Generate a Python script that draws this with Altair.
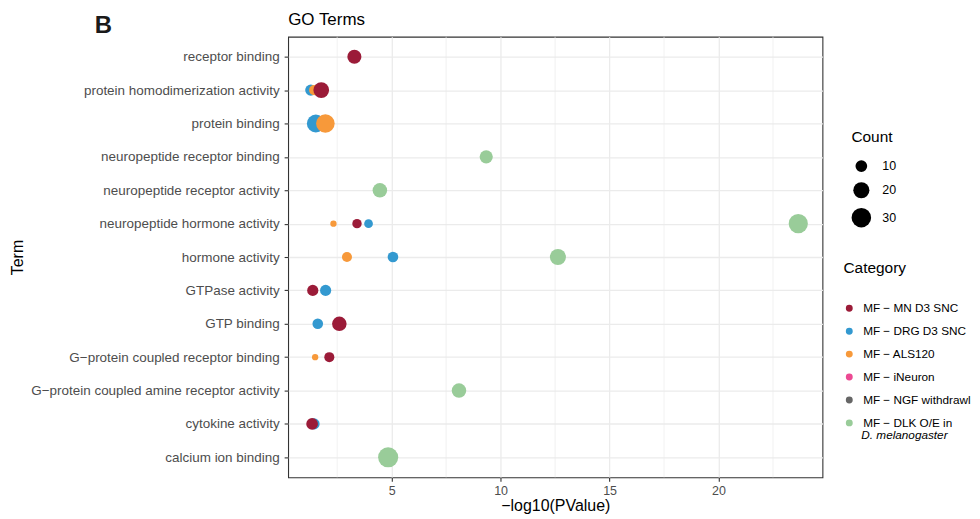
import altair as alt
import pandas as pd

MINUS = "\u2212"

terms = [
    "receptor binding",
    "protein homodimerization activity",
    "protein binding",
    "neuropeptide receptor binding",
    "neuropeptide receptor activity",
    "neuropeptide hormone activity",
    "hormone activity",
    "GTPase activity",
    "GTP binding",
    f"G{MINUS}protein coupled receptor binding",
    f"G{MINUS}protein coupled amine receptor activity",
    "cytokine activity",
    "calcium ion binding",
]

categories = [
    f"MF {MINUS} MN D3 SNC",
    f"MF {MINUS} DRG D3 SNC",
    f"MF {MINUS} ALS120",
    f"MF {MINUS} iNeuron",
    f"MF {MINUS} NGF withdrawl",
    f"MF {MINUS} DLK O/E in D. melanogaster",
]
colors = ["#9B1B38", "#3399D0", "#F7993A", "#EC4A93", "#666666", "#99CC99"]

MN, DRG, ALS, DLK = categories[0], categories[1], categories[2], categories[5]

# Points, drawn in this order (later rows on top)
pt_term = [
    terms[1], terms[2], terms[5], terms[6], terms[7], terms[8], terms[11],
    terms[1], terms[2], terms[5], terms[6], terms[9],
    terms[0], terms[1], terms[5], terms[7], terms[8], terms[9], terms[11],
    terms[3], terms[4], terms[5], terms[6], terms[10], terms[12],
]
pt_cat = [
    DRG, DRG, DRG, DRG, DRG, DRG, DRG,
    ALS, ALS, ALS, ALS, ALS,
    MN, MN, MN, MN, MN, MN, MN,
    DLK, DLK, DLK, DLK, DLK, DLK,
]
pt_logp = [
    1.29, 1.52, 3.94, 5.06, 1.97, 1.61, 1.44,
    1.44, 1.96, 2.33, 2.95, 1.49,
    3.29, 1.77, 3.41, 1.38, 2.60, 2.14, 1.35,
    9.34, 4.46, 23.66, 12.63, 8.09, 4.84,
]
pt_count = [
    9, 25, 5, 8, 9, 8, 9,
    7, 27, 2, 7, 2,
    15, 19, 6, 9, 16, 7, 10,
    13, 16, 29, 20, 16, 32,
]

minor_grid = [2.5, 7.5, 12.5, 17.5, 22.5]
major_ticks = [5, 10, 15, 20]
size_legend_values = [10, 20, 30]

df = pd.DataFrame({"Term": pt_term, "Category": pt_cat,
                   "logP": pt_logp, "Count": pt_count,
                   "ord": list(range(len(pt_term)))})

FONT = "Liberation Sans"
XDOM = [0.25, 24.77]

xscale = alt.Scale(domain=XDOM, nice=False, zero=False)

minor = alt.Chart(pd.DataFrame({"v": minor_grid})).mark_rule(
    color="#EBEBEB", strokeWidth=0.7
).encode(x=alt.X("v:Q", scale=xscale))

points = alt.Chart(df).mark_circle(opacity=1, strokeWidth=0).encode(
    x=alt.X("logP:Q", scale=xscale,
            axis=alt.Axis(title=f"{MINUS}log10(PValue)", values=major_ticks,
                          grid=True, gridColor="#EBEBEB", gridWidth=1.3,
                          tickColor="#333333", tickSize=4, tickWidth=1.1,
                          domain=False, labelFontSize=12.5,
                          labelColor="#4D4D4D", labelPadding=3,
                          titleFontSize=16, titleFontWeight="normal",
                          titleColor="#000000", titlePadding=1,
                          labelFont=FONT, titleFont=FONT)),
    y=alt.Y("Term:N", sort=terms,
            scale=alt.Scale(domain=terms, type="point", padding=0.6),
            axis=alt.Axis(title="Term", grid=True, gridColor="#EBEBEB",
                          gridWidth=1.3, tickColor="#333333", tickSize=4,
                          tickWidth=1.1, domain=False, labelFontSize=13.5,
                          labelColor="#4D4D4D", labelPadding=5,
                          labelLimit=400,
                          titleFontSize=16, titleFontWeight="normal",
                          titleColor="#000000", titleX=-263,
                          labelFont=FONT, titleFont=FONT)),
    color=alt.Color("Category:N",
                    scale=alt.Scale(domain=categories, range=colors),
                    legend=alt.Legend(
                        orient="none", legendX=557, legendY=225,
                        title="Category", titleFontSize=15.5,
                        titleFontWeight="normal", titleColor="#000000",
                        titlePadding=26, labelFontSize=11.8,
                        labelColor="#000000", symbolType="circle",
                        symbolSize=48, symbolOpacity=1, symbolStrokeWidth=0,
                        rowPadding=10, labelOffset=8,
                        labelFont=FONT, titleFont=FONT,
                        labelExpr="indexof(datum.label, 'DLK') >= 0 ? 'MF \u2212 DLK O/E in' : datum.label",
                        labelLimit=300)),
    size=alt.Size("Count:Q",
                  scale=alt.Scale(domain=[0, 35], range=[15.7, 444], zero=False),
                  legend=alt.Legend(
                      orient="none", legendX=565, legendY=94,
                      title="Count", titleFontSize=15.5,
                      titleFontWeight="normal", titleColor="#000000",
                      titlePadding=14, labelFontSize=12.5,
                      labelColor="#000000", values=size_legend_values,
                      symbolFillColor="#000000", symbolOpacity=1,
                      symbolStrokeWidth=0, symbolType="circle",
                      rowPadding=9, labelOffset=11,
                      labelFont=FONT, titleFont=FONT)),
    order=alt.Order("ord:Q"),
)

panel_label = alt.Chart(pd.DataFrame({"t": ["B"]})).mark_text(
    align="left", baseline="alphabetic", fontSize=24, fontWeight="bold",
    font=FONT, color="#1A1A1A"
).encode(text="t:N", x=alt.value(-194), y=alt.value(-4))

title_text = alt.Chart(pd.DataFrame({"t": ["GO Terms"]})).mark_text(
    align="left", baseline="alphabetic", fontSize=17, font=FONT,
    color="#000000"
).encode(text="t:N", x=alt.value(0), y=alt.value(-12))

italic_note = alt.Chart(pd.DataFrame({"t": ["D. melanogaster"]})).mark_text(
    align="left", baseline="middle", fontSize=11.8, fontStyle="italic",
    font=FONT, color="#000000"
).encode(text="t:N", x=alt.value(575), y=alt.value(400))

chart = alt.layer(minor, points, panel_label, title_text, italic_note).properties(
    width=536, height=442,
    autosize=alt.AutoSizeParams(type="none"),
    padding={"left": 281, "top": 28, "right": 150, "bottom": 38},
).configure(
    background="white",
    view=alt.ViewConfig(stroke="#333333", strokeWidth=1.1),
)

chart.save("out.html", embed_options={"renderer": "svg", "actions": False})
